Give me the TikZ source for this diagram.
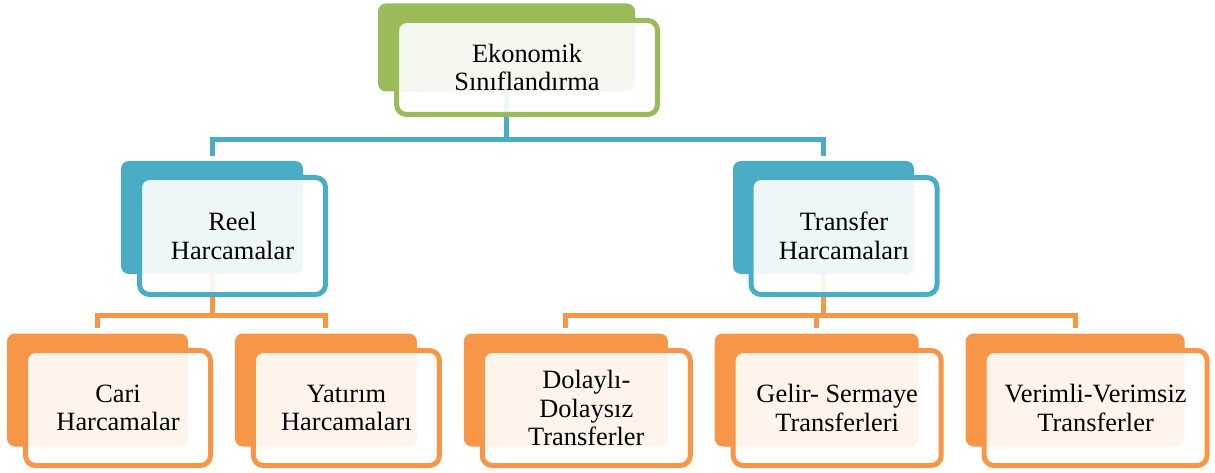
\documentclass[tikz,border=0pt]{standalone}
\usepackage{fontspec}
\setmainfont{Liberation Serif}
\usetikzlibrary{positioning}
\definecolor{ecogreen}{HTML}{9BBB59}
\definecolor{ecoblue}{HTML}{4BACC6}
\definecolor{ecoorange}{HTML}{F79646}
\tikzset{
  backbox/.style={rectangle, rounded corners=8pt, fill=#1, inner sep=0pt, minimum height=113pt},
  frontbox/.style={rectangle, rounded corners=10pt, draw=#1, line width=5pt, fill=white,
    fill opacity=0.9, draw opacity=1, text opacity=1, align=center, inner sep=0pt,
    minimum height=115pt, font=\fontsize{26.4}{28.5}\selectfont},
  link/.style={draw=#1, line width=5pt, shorten >=5pt}
}

\begin{document}
\begin{tikzpicture}[x=1pt,y=-1pt]
\useasboundingbox (0,0) rectangle (1215,473);

% back boxes
\node[backbox=ecogreen, minimum width=257pt, minimum height=88pt] (ekoB) at (506.5,47.5) {};
\node[backbox=ecoblue, minimum width=182pt] (reelB) at (212,217.5) {};
\node[backbox=ecoblue, minimum width=181pt] (transB) at (823.5,217.5) {};
\node[backbox=ecoorange, minimum width=181pt] (cariB) at (97.5,390) {};
\node[backbox=ecoorange, minimum width=182pt, right=46.5pt of cariB] (yatirimB) {};
\node[backbox=ecoorange, minimum width=204pt, right=46.5pt of yatirimB] (dolayliB) {};
\node[backbox=ecoorange, minimum width=204pt, right=46.5pt of dolayliB] (gelirB) {};
\node[backbox=ecoorange, minimum width=219pt, right=46.5pt of gelirB] (verimliB) {};

% connectors
\coordinate (ekoJ) at ([yshift=-48pt]ekoB.south);
\coordinate (reelJ) at ([yshift=-41pt]reelB.south);
\coordinate (transJ) at ([yshift=-41pt]transB.south);
\draw[link=ecoblue] (ekoB.south) -- (ekoJ) -| (reelB.north);
\draw[link=ecoblue] (ekoJ) -| (transB.north);
\draw[link=ecoorange] (reelB.south) -- (reelJ) -| (cariB.north);
\draw[link=ecoorange] (reelJ) -| (yatirimB.north);
\draw[link=ecoorange] (transB.south) -- (transJ) -| (dolayliB.north);
\draw[link=ecoorange] (transJ) -| (gelirB.north);
\draw[link=ecoorange] (transJ) -| (verimliB.north);

% front boxes
\node[frontbox=ecogreen, minimum width=261pt, minimum height=94pt] (eko)
  at ([xshift=20.5pt,yshift=-20pt]ekoB) {Ekonomik\\Sınıflandırma};
\node[frontbox=ecoblue, minimum width=186pt, minimum height=117pt] (reel)
  at ([xshift=20.5pt,yshift=-18.5pt]reelB) {Reel\\Harcamalar};
\node[frontbox=ecoblue, minimum width=186pt, minimum height=117pt] (trans)
  at ([xshift=20.5pt,yshift=-18.5pt]transB) {Transfer\\Harcamaları};
\node[frontbox=ecoorange, minimum width=185pt] (cari)
  at ([xshift=20.5pt,yshift=-18pt]cariB) {Cari\\Harcamalar};
\node[frontbox=ecoorange, minimum width=186pt] (yatirim)
  at ([xshift=20.5pt,yshift=-18pt]yatirimB) {Yatırım\\Harcamaları};
\node[frontbox=ecoorange, minimum width=208pt] (dolayli)
  at ([xshift=20.5pt,yshift=-18pt]dolayliB) {Dolaylı-\\Dolaysız\\Transferler};
\node[frontbox=ecoorange, minimum width=208pt] (gelir)
  at ([xshift=20.5pt,yshift=-18pt]gelirB) {Gelir- Sermaye\\Transferleri};
\node[frontbox=ecoorange, minimum width=223pt] (verimli)
  at ([xshift=20.5pt,yshift=-18pt]verimliB) {Verimli-Verimsiz\\Transferler};
\end{tikzpicture}
\end{document}
